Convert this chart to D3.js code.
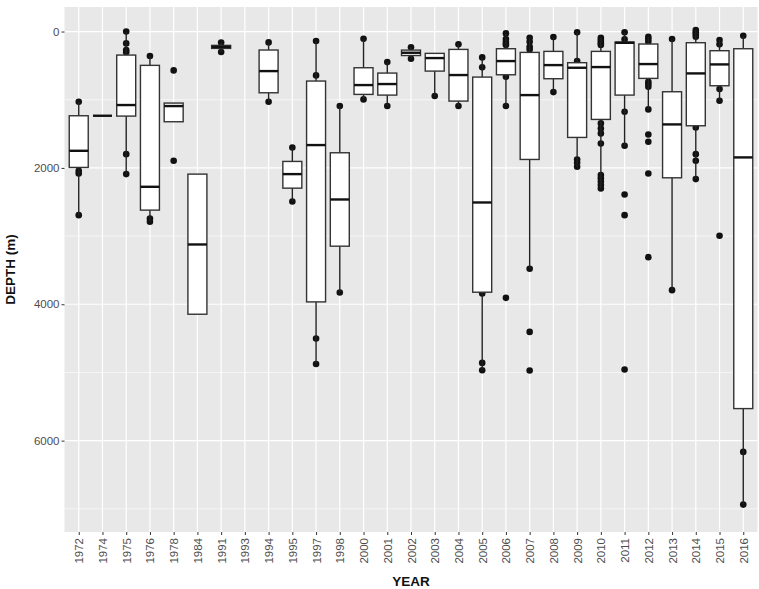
<!DOCTYPE html>
<html>
<head>
<meta charset="utf-8">
<script src="https://cdn.jsdelivr.net/npm/d3@7"></script>
<style>
  body { margin: 0; background: #fff; }
  svg text { font-family: "Liberation Sans", Arial, sans-serif; }
</style>
</head>
<body>
<div id="chart"></div>
<script>
// categories (1993 has no data)
let years = ['1972','1974','1975','1976','1978','1984','1991','1993','1994','1995','1997','1998',
  '2000','2001','2002','2003','2004','2005','2006','2007','2008','2009','2010','2011','2012',
  '2013','2014','2015','2016'];

// box stats, depth in m (null = no data)
let whiskerTop = [1030,1235,0,359,1049,2091,160,null,159,1700,139,1093,105,448,232,320,188,379,27,91,81,12,91,12,76,115,-22,125,61];
let q1 =         [1235,1235,345,496,1049,2091,203,null,271,1905,726,1778,531,609,272,320,262,668,252,306,291,457,291,154,183,883,164,281,252];
let medians =    [1749,1235,1078,2277,1093,3123,225,null,580,2091,1665,2463,785,770,311,389,638,2507,433,932,492,531,521,165,477,1362,614,482,1846];
let q3 =         [1993,1235,1240,2619,1323,4146,247,null,898,2297,3965,3148,922,932,352,580,1020,3823,634,1876,692,1553,1289,932,687,2145,1382,795,5530];
let whiskerBot = [2693,1235,2091,2790,1323,4146,300,null,1030,2492,4875,3827,995,1093,399,946,1093,4967,1093,3480,888,1984,2301,1675,1142,3793,2164,1015,6938];

// observations visible outside the boxes
let points = [
  [1030,2043,2081,2693],
  [],
  [0,174,271,305,1798,2091],
  [359,2741,2790],
  [570,1896],
  [],
  [160,300],
  [],
  [159,1030],
  [1700,2492],
  [139,643,4502,4875],
  [1093,3827],
  [105,995],
  [448,1093],
  [232,399],
  [946],
  [188,1093],
  [379,525,3842,4860,4967],
  [27,110,150,180,198,663,1093,3906],
  [91,150,223,262,3480,4405,4972],
  [81,888],
  [12,433,1876,1925,1984],
  [91,120,150,175,198,1347,1421,1494,1641,2105,2150,2200,2250,2301],
  [12,115,1177,1675,2389,2693,4957],
  [76,110,150,736,770,810,1142,1509,1617,2081,3309],
  [110,3793],
  [-22,10,40,76,1406,1798,1896,2164],
  [125,188,844,1015,2996],
  [61,6165,6938]
];

let yTicks = [0, 2000, 4000, 6000];
let yMinor = [1000, 3000, 5000, 7000];

var width = 759,
    height = 589,
    margin = { top: 7, right: 1.5, bottom: 57, left: 64.5 };

var x = d3.scalePoint()
    .domain(years)
    .range([margin.left, width - margin.right])
    .padding(0.6);

var y = d3.scaleLinear()
    .domain([-360, 7340])
    .range([margin.top, height - margin.bottom]);

var boxW = x.step() * 0.8;

var svg = d3.select('#chart').append('svg')
    .attr('width', width)
    .attr('height', height);

// panel
svg.append('rect')
    .attr('x', margin.left)
    .attr('y', margin.top)
    .attr('width', width - margin.left - margin.right)
    .attr('height', height - margin.top - margin.bottom)
    .attr('fill', '#e8e8e8');

var grid = svg.append('g');
grid.selectAll('.minor').data(yMinor).enter().append('line')
    .attr('x1', margin.left).attr('x2', width - margin.right)
    .attr('y1', d => y(d)).attr('y2', d => y(d))
    .attr('stroke', '#fff').attr('stroke-width', 0.6);
grid.selectAll('.hmajor').data(yTicks).enter().append('line')
    .attr('x1', margin.left).attr('x2', width - margin.right)
    .attr('y1', d => y(d)).attr('y2', d => y(d))
    .attr('stroke', '#fff').attr('stroke-width', 1.2);
grid.selectAll('.vmajor').data(years).enter().append('line')
    .attr('x1', d => x(d)).attr('x2', d => x(d))
    .attr('y1', margin.top).attr('y2', height - margin.bottom)
    .attr('stroke', '#fff').attr('stroke-width', 1.2);

var rows = years.map((yr, i) => ({
  year: yr, lo: whiskerTop[i], q1: q1[i], med: medians[i], q3: q3[i], hi: whiskerBot[i], pts: points[i]
}));

// points first, boxes drawn on top
var pts = [];
rows.forEach(r => r.pts.forEach(v => pts.push({ year: r.year, v: v })));
svg.append('g').selectAll('circle').data(pts).enter().append('circle')
    .attr('cx', d => x(d.year))
    .attr('cy', d => y(d.v))
    .attr('r', 3.3)
    .attr('fill', '#111');

var boxes = svg.append('g').selectAll('g')
    .data(rows.filter(r => r.med !== null))
    .enter().append('g');

boxes.append('line')
    .attr('x1', d => x(d.year)).attr('x2', d => x(d.year))
    .attr('y1', d => y(d.lo)).attr('y2', d => y(d.hi))
    .attr('stroke', '#222').attr('stroke-width', 1.4);

boxes.append('rect')
    .attr('x', d => x(d.year) - boxW / 2)
    .attr('y', d => y(d.q1))
    .attr('width', boxW)
    .attr('height', d => Math.max(0, y(d.q3) - y(d.q1)))
    .attr('fill', '#fff')
    .attr('stroke', '#333')
    .attr('stroke-width', 1.4);

boxes.append('line')
    .attr('x1', d => x(d.year) - boxW / 2).attr('x2', d => x(d.year) + boxW / 2)
    .attr('y1', d => y(d.med)).attr('y2', d => y(d.med))
    .attr('stroke', '#111').attr('stroke-width', 2.4);

// axes
var yAxis = svg.append('g')
    .attr('transform', 'translate(' + margin.left + ',0)')
    .call(d3.axisLeft(y).tickValues(yTicks).tickFormat(d3.format('d')).tickSize(3).tickPadding(2));
yAxis.select('.domain').remove();
yAxis.selectAll('line').attr('stroke', '#333');
yAxis.selectAll('text').attr('fill', '#4d4d4d').style('font-size', '11.5px');

var xAxis = svg.append('g')
    .attr('transform', 'translate(0,' + (height - margin.bottom) + ')')
    .call(d3.axisBottom(x).tickSize(3));
xAxis.select('.domain').remove();
xAxis.selectAll('line').attr('stroke', '#333');
xAxis.selectAll('text')
    .attr('fill', '#4d4d4d')
    .style('font-size', '11.5px')
    .attr('transform', 'rotate(-90)')
    .attr('text-anchor', 'end')
    .attr('x', -6)
    .attr('y', 0)
    .attr('dy', '0.35em');

svg.append('text')
    .attr('x', (margin.left + width - margin.right) / 2)
    .attr('y', 586)
    .attr('text-anchor', 'middle')
    .style('font-size', '13.5px')
    .style('font-weight', 'bold')
    .attr('fill', '#111')
    .text('YEAR');

svg.append('text')
    .attr('transform', 'translate(15,' + ((margin.top + height - margin.bottom) / 2) + ') rotate(-90)')
    .attr('text-anchor', 'middle')
    .style('font-size', '13.5px')
    .style('font-weight', 'bold')
    .attr('fill', '#111')
    .text('DEPTH (m)');
</script>
</body>
</html>
